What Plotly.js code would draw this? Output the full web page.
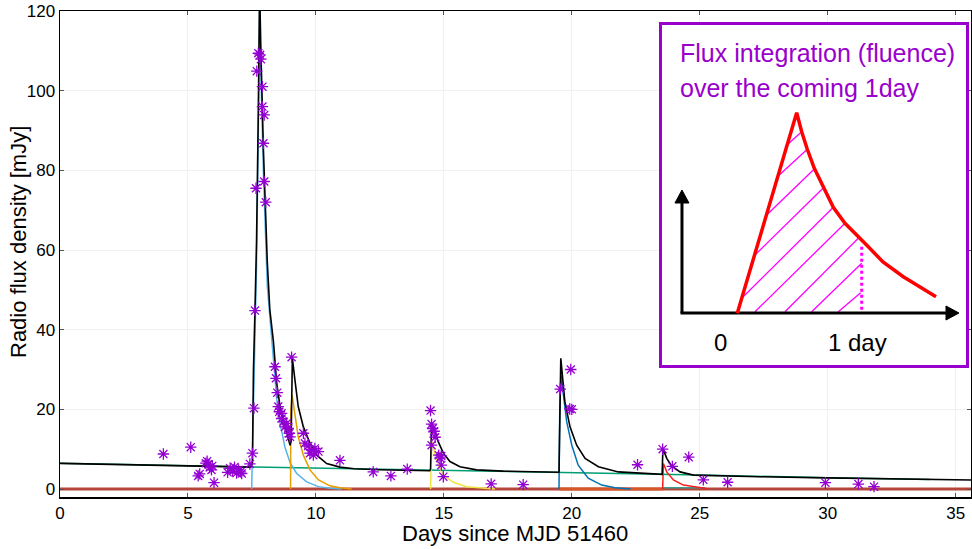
<!DOCTYPE html>
<html><head><meta charset="utf-8">
<script src="https://cdn.plot.ly/plotly-3.0.1.min.js"></script>
<style>html,body{margin:0;padding:0;background:#fff}#chart{width:972px;height:549px}</style>
</head><body><div id="chart"></div><script>
// ---------- main chart data ----------
const xTicks = [0, 5, 10, 15, 20, 25, 30, 35];
const yTicks = [0, 20, 40, 60, 80, 100, 120];
const xTitle = 'Days since MJD 51460';
const yTitle = 'Radio flux density [mJy]';

const obsDays = [4.04,5.11,5.40,5.46,5.70,5.75,5.80,5.85,5.92,5.95,6.02,6.55,6.65,6.75,6.82,6.90,6.98,7.05,7.10,7.42,7.52,7.58,7.62,7.66,7.69,7.75,7.82,7.85,7.91,7.91,7.95,7.98,7.98,8.04,
  8.40,8.44,8.49,8.53,8.57,8.66,8.66,8.73,8.79,8.86,8.92,8.96,8.99,9.05,9.51,9.57,9.70,9.77,9.83,9.90,9.96,10.10,10.94,
  12.24,12.93,13.57,14.48,14.52,14.56,14.62,14.66,14.52,14.80,14.85,14.90,14.90,14.98,16.85,18.10,
  19.55,19.96,19.92,20.00,22.57,23.55,23.93,24.57,25.14,26.09,29.91,31.20,31.81];
const obsFlux = [8.8,10.5,3.3,3.8,6.5,7.0,6.2,5.4,4.8,5.8,1.6,4.2,5.2,4.5,5.5,4.0,4.8,4.3,3.9,6.3,9.0,20.3,44.8,75.5,104.9,109.4,109.0,107.9,101.0,96.0,86.8,93.9,77.2,72.0,
  30.7,27.8,24.2,20.7,19.4,17.7,19.0,16.9,15.6,16.5,15.2,14.0,13.1,33.1,14.0,11.5,10.8,9.0,9.8,8.5,10.2,9.4,7.2,
  4.3,3.3,5.0,19.7,16.3,15.2,14.5,13.0,11.0,8.5,7.8,8.3,6.0,3.1,1.3,1.1,
  25.1,30.0,20.1,20.0,6.1,10.0,5.7,8.0,2.3,1.7,1.6,1.25,0.6];

const totalDays = [0,7.45,7.52,7.56,7.62,7.68,7.75,7.80,7.85,7.95,8.10,8.20,8.34,8.47,8.60,8.79,8.99,9.03,9.08,9.18,9.31,9.51,9.77,10.03,10.42,10.94,11.5,12.5,13.5,14.45,14.48,14.52,14.65,14.78,14.98,15.24,15.63,16.28,17.32,19.15,19.50,19.57,19.63,19.73,19.93,20.19,20.52,21.04,21.82,22.73,23.53,23.56,23.71,23.90,24.23,24.75,25.66,27.35,30,33,35.6];
const totalFlux = [6.45,5.5,6.5,30,45,62,95,126,110,85,57,45,37,26.5,20.7,15.6,11.0,12,32.8,27.4,20.7,15.6,11.5,8.5,6.4,5.5,5.1,4.85,4.7,4.6,5,16.5,14.4,11.9,9.0,6.9,5.6,4.8,4.5,4.2,4.2,32.8,27.8,21.9,15.6,11.0,7.7,5.6,4.3,3.9,3.7,10.2,7.7,5.8,4.3,3.5,3.3,3.1,2.8,2.5,2.25];

const baseDays = [0,7.5,11.3,14.5,19.5,23.5,25,30,34];
const baseFlux = [6.45,5.55,5.25,4.85,4.3,3.7,3.5,2.85,2.4];

const flare1Days = [7.49,7.52,7.56,7.62,7.68,7.75,7.80,7.85,7.95,8.10,8.27,8.47,8.60,8.79,9.00,9.25,9.64,10.10,10.55,11.0];
const flare1Flux = [0,8,24,39,56,89,120,104,79,51,37,22.5,16.5,10.5,6.5,3.9,1.8,0.6,0.2,0];
const flare2Days = [9.01,9.02,9.07,9.18,9.31,9.51,9.77,10.10,10.55,10.94,11.4];
const flare2Flux = [0,20,23.6,18.2,13.1,8.5,4.8,2.3,0.8,0.3,0];
const flare3Days = [14.48,14.50,14.53,14.65,14.78,14.98,15.37,15.89,16.41,17.0];
const flare3Flux = [0,10,11.9,9.0,6.0,3.5,1.7,0.6,0.3,0];
const flare4Days = [19.50,19.53,19.58,19.67,19.80,20.00,20.25,20.64,21.17,21.69,22.3];
const flare4Flux = [0,20,28.6,23.6,16.9,11.0,6.0,2.7,1.0,0.3,0];
const flare5Days = [23.55,23.56,23.58,23.71,23.97,24.36,24.88,25.3];
const flare5Flux = [0,5,6.4,4.3,2.3,1.0,0.4,0.1];

const zeroDays = [0,35.6];
const zeroFlux = [0,0];
const zero2Days = [19.5,23.55];
const zero2Flux = [0,0];
const zero3Days = [23.55,25.2];
const zero3Flux = [0.35,0.35];

// ---------- inset schematic (inset pixel units) ----------
const curveX = [737.3,796.7,801.7,807.3,814.3,824,833.3,845,858.3,868.3,883,903.3,936];
const curveY = [313.3,112.7,131.7,149.3,168.3,187.3,207.3,223.3,237.3,246.7,262,276.7,296.7];
const hatchX = [785,801.7,null,779.3,807.3,null,767.7,814.3,null,755,824,null,741.7,833.3,null,755,845,null,785,858.3,null,811.7,861.7,null,838.3,860.7];
const hatchY = [146.7,131.7,null,175,149.3,null,214,169,null,255,187.3,null,298.3,207.3,null,311.7,223.3,null,311.7,238.3,null,311.7,263.3,null,311.7,292.7];
const limitX = [861.7,861.7];
const limitY = [246.7,312];
const axesX = [682,682,null,680.5,951];
const axesY = [202,313,null,313,313];
const headUpX = [682,675,689,682];
const headUpY = [190,203,203,190];
const headRightX = [959,946,946,959];
const headRightY = [313,306,320,313];
const insetLines = ['Flux integration (fluence)','over the coming 1day'];
const insetLabels = ['0','1 day'];

const purple = '#9900CC';
const traces = [];
function line(x, y, color, width, extra) {
  return Object.assign({x: x, y: y, type: 'scatter', mode: 'lines', hoverinfo: 'skip', showlegend: false,
    line: {color: color, width: width}}, extra || {});
}
traces.push(line(zeroDays, zeroFlux, '#B3453B', 3));
traces.push(line(zero2Days, zero2Flux, '#D5572A', 3));
traces.push(line(zero3Days, zero3Flux, '#3E9A8C', 1.5));
traces.push(line(baseDays, baseFlux, '#009E73', 1.5));
traces.push(line(flare1Days, flare1Flux, '#56B4E9', 1.5));
traces.push(line(flare2Days, flare2Flux, '#E69F00', 1.5));
traces.push(line(flare3Days, flare3Flux, '#F0E442', 1.5));
traces.push(line(flare4Days, flare4Flux, '#0072B2', 1.5));
traces.push(line(flare5Days, flare5Flux, '#FF1A1A', 1.5));
traces.push(line(totalDays, totalFlux, '#000000', 1.6));
traces.push({x: obsDays, y: obsFlux, type: 'scatter', mode: 'markers', hoverinfo: 'skip', showlegend: false,
  marker: {symbol: 'asterisk-open', size: 9.5, color: '#9400D3', line: {color: '#9400D3', width: 1.3}}});

// inset traces
const ix = {xaxis: 'x2', yaxis: 'y2'};
traces.push(line(hatchX, hatchY, '#FF00FF', 1.3, ix));
traces.push(line(limitX, limitY, '#FF00FF', 3, Object.assign({}, ix)));
traces[traces.length-1].line.dash = 'dot';
traces.push(line(axesX, axesY, '#000000', 3, ix));
traces.push(line(headUpX, headUpY, '#000000', 1, Object.assign({fill: 'toself', fillcolor: '#000000'}, ix)));
traces.push(line(headRightX, headRightY, '#000000', 1, Object.assign({fill: 'toself', fillcolor: '#000000'}, ix)));
traces.push(line(curveX, curveY, '#FF0000', 3.5, ix));

const font = 'Liberation Sans, Arial, Helvetica, sans-serif';
const layout = {
  width: 972, height: 549,
  margin: {l: 60, r: 1, t: 11, b: 52},
  paper_bgcolor: '#ffffff', plot_bgcolor: '#ffffff',
  font: {family: font, color: '#000000', size: 17},
  xaxis: {range: [0, 35.6], tickvals: xTicks, ticks: 'inside', ticklen: 4, tickcolor: '#555',
    showline: true, mirror: 'ticks', linecolor: '#000', linewidth: 1.5, zeroline: false,
    showgrid: true, gridcolor: '#f1f1f1', tickfont: {size: 17}},
  yaxis: {range: [-2, 120], tickvals: yTicks, ticks: 'inside', ticklen: 4, tickcolor: '#555',
    showline: true, mirror: 'ticks', linecolor: '#000', linewidth: 1.5, zeroline: false,
    showgrid: true, gridcolor: '#f1f1f1', tickfont: {size: 17}},
  xaxis2: {domain: [0.6575, 0.9978], range: [659, 969], visible: false, anchor: 'y2', fixedrange: true},
  yaxis2: {domain: [0.2654, 0.9774], range: [368, 22], visible: false, anchor: 'x2', fixedrange: true},
  shapes: [{type: 'rect', xref: 'x2', yref: 'y2', x0: 660.5, x1: 967.5, y0: 23.5, y1: 366.5,
    line: {color: purple, width: 3}, fillcolor: '#ffffff', layer: 'below'}],
  annotations: [
    {xref: 'paper', yref: 'paper', x: 0.4995, y: -0.0761, xanchor: 'center', yanchor: 'middle', showarrow: false,
     text: xTitle, font: {size: 22, color: '#000', family: font}},
    {xref: 'paper', yref: 'paper', x: -0.0450, y: 0.5247, xanchor: 'center', yanchor: 'middle', showarrow: false,
     textangle: -90, text: yTitle, font: {size: 22, color: '#000', family: font}},
    {xref: 'x2', yref: 'y2', x: 678, y: 53, xanchor: 'left', yanchor: 'middle', showarrow: false,
     text: insetLines[0], font: {size: 25, color: purple, family: font}},
    {xref: 'x2', yref: 'y2', x: 678, y: 88, xanchor: 'left', yanchor: 'middle', showarrow: false,
     text: insetLines[1], font: {size: 25, color: purple, family: font}},
    {xref: 'x2', yref: 'y2', x: 721, y: 342, xanchor: 'center', yanchor: 'middle', showarrow: false,
     text: insetLabels[0], font: {size: 24, color: '#000', family: font}},
    {xref: 'x2', yref: 'y2', x: 858, y: 342, xanchor: 'center', yanchor: 'middle', showarrow: false,
     text: insetLabels[1], font: {size: 24, color: '#000', family: font}}
  ]
};
Plotly.newPlot('chart', traces, layout, {staticPlot: true, displayModeBar: false});
</script></body></html>
